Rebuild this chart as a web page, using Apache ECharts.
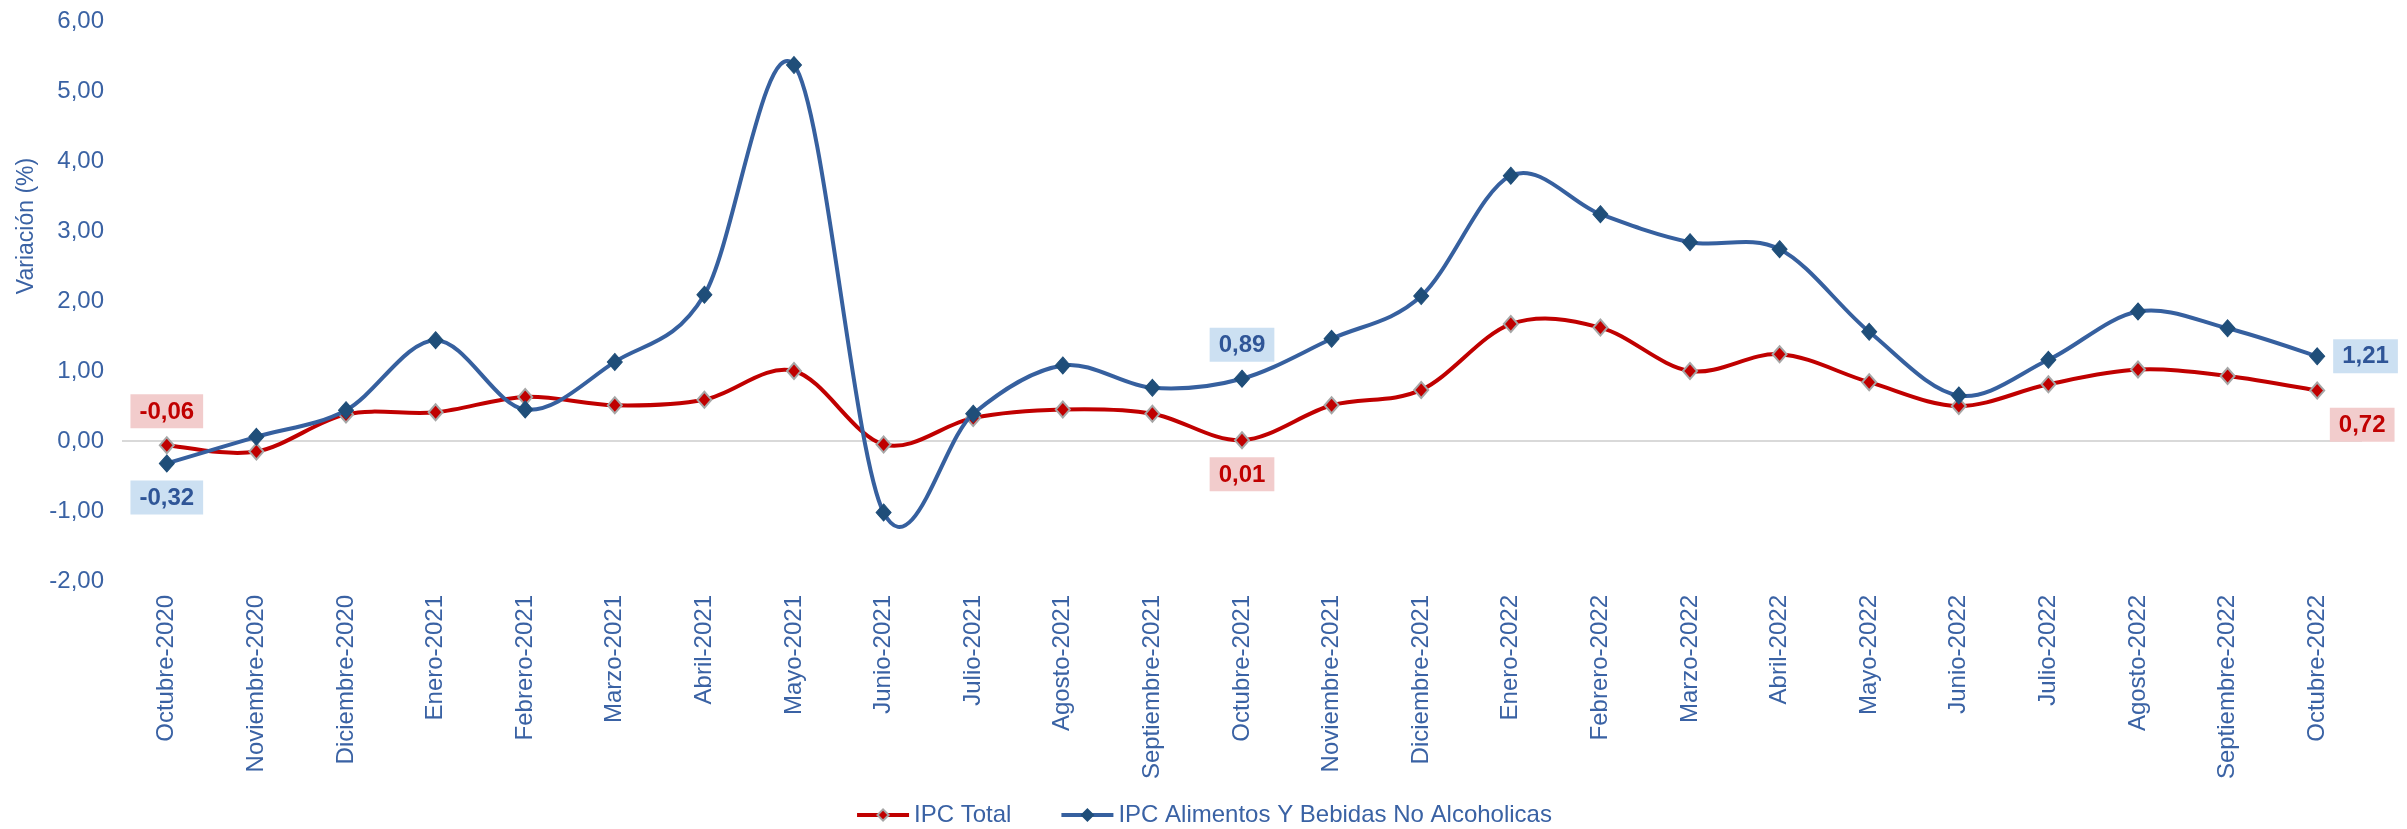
<!DOCTYPE html>
<html>
<head>
<meta charset="utf-8">
<script src="https://cdn.jsdelivr.net/npm/echarts@6/dist/echarts.min.js"></script>
<style>
  html, body { margin: 0; padding: 0; background: #ffffff; }
  #chart { width: 2407px; height: 829px; }
</style>
</head>
<body>
<div id="chart"></div>
<script>
const categories = [
  "Octubre-2020", "Noviembre-2020", "Diciembre-2020", "Enero-2021", "Febrero-2021",
  "Marzo-2021", "Abril-2021", "Mayo-2021", "Junio-2021", "Julio-2021",
  "Agosto-2021", "Septiembre-2021", "Octubre-2021", "Noviembre-2021", "Diciembre-2021",
  "Enero-2022", "Febrero-2022", "Marzo-2022", "Abril-2022", "Mayo-2022",
  "Junio-2022", "Julio-2022", "Agosto-2022", "Septiembre-2022", "Octubre-2022"
];
const ipcTotal = [
  -0.06, -0.15, 0.38, 0.41, 0.63,
  0.51, 0.59, 1.00, -0.05, 0.33,
  0.45, 0.39, 0.01, 0.51, 0.73,
  1.67, 1.62, 1.00, 1.24, 0.84,
  0.50, 0.81, 1.02, 0.93, 0.72
];
const ipcAlimentos = [
  -0.32, 0.06, 0.44, 1.44, 0.45,
  1.13, 2.09, 5.37, -1.02, 0.39,
  1.08, 0.76, 0.89, 1.46, 2.07,
  3.79, 3.24, 2.84, 2.74, 1.56,
  0.65, 1.16, 1.85, 1.61, 1.21
];
const seriesNames = ["IPC Total", "IPC Alimentos Y Bebidas No Alcoholicas"];
const yAxisName = "Variación (%)";

const FONT = "'Liberation Sans', Arial, sans-serif";
const AXIS_COLOR = "#3A62A4";
const RED = "#C00000";
const BLUE_LINE = "#36609F";
const BLUE_MARK = "#1F4E79";

function fmt(v) { return v.toFixed(2).replace('.', ','); }

const lastIdx = categories.length - 1;
const midIdx = categories.indexOf("Octubre-2021");

function labelBox(textColor, bg) {
  return {
    show: true,
    formatter: p => fmt(p.value),
    color: textColor,
    backgroundColor: bg,
    fontFamily: FONT,
    fontSize: 24,
    fontWeight: 'bold',
    padding: [6, 9, 4, 9],
    distance: 8
  };
}

const redData = ipcTotal.map((v, i) => {
  const item = { value: v };
  if (i === 0) item.label = Object.assign(labelBox(RED, '#F2CCCC'), { position: 'top' });
  if (i === midIdx) item.label = Object.assign(labelBox(RED, '#F2CCCC'), { position: 'bottom' });
  if (i === lastIdx) item.label = Object.assign(labelBox(RED, '#F2CCCC'), { position: 'bottom', offset: [45, 0] });
  return item;
});
const blueData = ipcAlimentos.map((v, i) => {
  const item = { value: v };
  if (i === 0) item.label = Object.assign(labelBox('#2F5597', '#CCE0F2'), { position: 'bottom' });
  if (i === midIdx) item.label = Object.assign(labelBox('#2F5597', '#CCE0F2'), { position: 'top' });
  if (i === lastIdx) item.label = Object.assign(labelBox('#2F5597', '#CCE0F2'), { position: 'right' });
  return item;
});

// Smooth curve segments (Catmull-Rom style, like spreadsheet smoothing), placed through the axes.
function splineSeries(values, color, z) {
  return {
    type: 'custom',
    silent: true,
    z: z,
    data: values.slice(0, values.length - 1).map((v, i) => [i, v]),
    encode: { x: 0, y: 1 },
    renderItem: function (params, api) {
      const i = params.dataIndex;
      const n = values.length;
      const pt = k => api.coord([Math.max(0, Math.min(n - 1, k)), values[Math.max(0, Math.min(n - 1, k))]]);
      const p0 = pt(i - 1), p1 = pt(i), p2 = pt(i + 1), p3 = pt(i + 2);
      return {
        type: 'bezierCurve',
        shape: {
          x1: p1[0], y1: p1[1],
          x2: p2[0], y2: p2[1],
          cpx1: p1[0] + (p2[0] - p0[0]) / 6,
          cpy1: p1[1] + (p2[1] - p0[1]) / 6,
          cpx2: p2[0] - (p3[0] - p1[0]) / 6,
          cpy2: p2[1] - (p3[1] - p1[1]) / 6
        },
        style: { stroke: color, lineWidth: 4, fill: null, lineCap: 'round' }
      };
    }
  };
}

const chart = echarts.init(document.getElementById('chart'), null, { renderer: 'canvas' });
chart.setOption({
  backgroundColor: '#ffffff',
  animation: false,
  grid: { left: 122, right: 45, top: 21, bottom: 248, containLabel: false },
  legend: {
    bottom: -3,
    left: 'center',
    itemWidth: 52,
    itemHeight: 14,
    itemGap: 48,
    lineStyle: { width: 4, opacity: 1 },
    textStyle: { color: AXIS_COLOR, fontFamily: FONT, fontSize: 24 },
    data: seriesNames
  },
  graphic: [{
    type: 'text',
    x: 27,
    y: 226,
    rotation: Math.PI / 2,
    style: {
      text: yAxisName,
      fill: AXIS_COLOR,
      font: "23px " + FONT,
      textAlign: 'center',
      textVerticalAlign: 'middle',
      verticalAlign: 'middle'
    }
  }],
  xAxis: {
    type: 'category',
    data: categories,
    boundaryGap: true,
    axisLine: { show: false },
    axisTick: { show: false },
    axisLabel: {
      rotate: 90,
      interval: 0,
      margin: 14,
      color: AXIS_COLOR,
      fontFamily: FONT,
      fontSize: 24
    }
  },
  yAxis: {
    type: 'value',
    min: -2,
    max: 6,
    interval: 1,
    axisLine: { show: false },
    axisTick: { show: false },
    splitLine: { show: false },
    axisLabel: {
      formatter: v => fmt(v),
      color: AXIS_COLOR,
      fontFamily: FONT,
      fontSize: 24,
      margin: 18
    }
  },
  series: [
    splineSeries(ipcTotal, RED, 2),
    {
      name: seriesNames[0],
      type: 'line',
      data: redData,
      symbol: 'diamond',
      symbolSize: [14, 16],
      lineStyle: { color: RED, width: 4, opacity: 0 },
      itemStyle: { color: RED, borderColor: '#A6A6A6', borderWidth: 2 },
      z: 3,
      markLine: {
        silent: true,
        symbol: ['none', 'none'],
        label: { show: false },
        lineStyle: { color: '#D9D9D9', width: 2, type: 'solid' },
        data: [{ yAxis: 0 }],
        z: 1
      }
    },
    splineSeries(ipcAlimentos, BLUE_LINE, 4),
    {
      name: seriesNames[1],
      type: 'line',
      data: blueData,
      symbol: 'diamond',
      symbolSize: [15, 17],
      lineStyle: { color: BLUE_LINE, width: 4, opacity: 0 },
      itemStyle: { color: BLUE_MARK, borderColor: BLUE_MARK, borderWidth: 1 },
      z: 5
    }
  ]
});
</script>
</body>
</html>
